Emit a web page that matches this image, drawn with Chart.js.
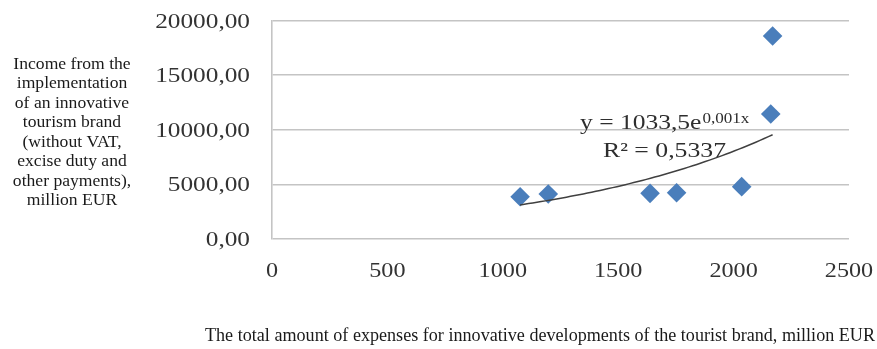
<!DOCTYPE html>
<html>
<head>
<meta charset="utf-8">
<script src="https://cdn.jsdelivr.net/npm/chart.js@4/dist/chart.umd.min.js"></script>
<style>
  html, body { margin: 0; padding: 0; background: #ffffff; }
  #wrap { width: 877px; height: 349px; }
</style>
</head>
<body>
<div id="wrap"><canvas id="chart" width="877" height="349"></canvas></div>
<script>
// Expenses for innovative developments (million EUR)
const expenses = [1075, 1197, 1638, 1753, 2035, 2161, 2169];
// Income from the innovative tourism brand (million EUR)
const income = [3870, 4120, 4180, 4240, 4790, 11440, 18580];

const xTicks = [0, 500, 1000, 1500, 2000, 2500];
const yTicks = [0, 5000, 10000, 15000, 20000];

const yTitleLines = [
  'Income from the',
  'implementation',
  'of an innovative',
  'tourism brand',
  '(without VAT,',
  'excise duty and',
  'other payments),',
  'million EUR'
];
const xTitle = 'The total amount of expenses for innovative developments of the tourist brand, million EUR';
const eqMain = 'y = 1033,5e';
const eqExp = '0,001x';
const eqR2 = 'R\u00B2 = 0,5337';

// Exponential trend y = a·e^(b·x), least squares on ln(y)
function expFit(xs, ys) {
  const n = xs.length;
  const ly = ys.map(v => Math.log(v));
  const mx = xs.reduce((s, v) => s + v, 0) / n;
  const my = ly.reduce((s, v) => s + v, 0) / n;
  let sxy = 0, sxx = 0;
  for (let i = 0; i < n; i++) {
    sxy += (xs[i] - mx) * (ly[i] - my);
    sxx += (xs[i] - mx) * (xs[i] - mx);
  }
  const b = sxy / sxx;
  const a = Math.exp(my - b * mx);
  return { a, b };
}
const fit = expFit(expenses, income);
const xLo = Math.min(...expenses), xHi = Math.max(...expenses);
const trend = [];
for (let i = 0; i <= 60; i++) {
  const x = xLo + (xHi - xLo) * i / 60;
  trend.push({ x, y: fit.a * Math.exp(fit.b * x) });
}

const SERIF = '"Liberation Serif", "Times New Roman", serif';

function wideText(ctx, txt, x, y, align, sx) {
  ctx.save();
  ctx.translate(x, y);
  ctx.scale(sx, 1);
  ctx.textAlign = align;
  ctx.textBaseline = 'alphabetic';
  ctx.fillText(txt, 0, 0);
  ctx.restore();
}

const textPlugin = {
  id: 'axisText',
  afterDraw(chart) {
    const ctx = chart.ctx;
    const xs = chart.scales.x, ys = chart.scales.y;

    // tick labels
    ctx.fillStyle = '#333333';
    ctx.font = '22px ' + SERIF;
    yTicks.forEach(v => {
      const py = ys.getPixelForValue(v);
      wideText(ctx, v.toFixed(2).replace('.', ','), chart.chartArea.left - 22, py + 7, 'right', 1.15);
    });
    xTicks.forEach(v => {
      const px = xs.getPixelForValue(v);
      wideText(ctx, String(v), px, chart.chartArea.bottom + 37.5, 'center', 1.1);
    });

    // vertical axis title
    ctx.fillStyle = '#1a1a1a';
    ctx.font = '16px ' + SERIF;
    yTitleLines.forEach((line, i) => {
      wideText(ctx, line, 72, 68.5 + i * 19.5, 'center', 1.1);
    });

    // horizontal axis title
    ctx.font = '18px ' + SERIF;
    const w = ctx.measureText(xTitle).width;
    wideText(ctx, xTitle, 205, 340.5, 'left', 670 / w);

    // trendline equation
    ctx.fillStyle = '#2e2e2e';
    ctx.font = '22px ' + SERIF;
    const mw = ctx.measureText(eqMain).width * 1.16;
    wideText(ctx, eqMain, 580, 128.5, 'left', 1.16);
    ctx.font = '14px ' + SERIF;
    wideText(ctx, eqExp, 580 + mw + 1, 123, 'left', 1.22);
    ctx.font = '22px ' + SERIF;
    wideText(ctx, eqR2, 603, 156.5, 'left', 1.17);
  }
};

new Chart(document.getElementById('chart'), {
  type: 'scatter',
  data: {
    datasets: [
      {
        type: 'line',
        label: 'trend',
        data: trend,
        borderColor: '#404040',
        borderWidth: 1.5,
        pointRadius: 0,
        fill: false,
        tension: 0,
        order: 0
      },
      {
        label: 'income',
        data: expenses.map((x, i) => ({ x, y: income[i] })),
        pointStyle: 'rectRot',
        pointRadius: 9.8,
        pointBackgroundColor: '#4A7EBB',
        pointBorderColor: '#4A7EBB',
        pointBorderWidth: 0,
        showLine: false,
        order: 1
      }
    ]
  },
  options: {
    responsive: false,
    animation: false,
    events: [],
    layout: { autoPadding: false, padding: { top: 20.5, right: 28, bottom: 0, left: 0 } },
    plugins: { legend: { display: false }, tooltip: { enabled: false } },
    scales: {
      x: {
        type: 'linear',
        min: 0,
        max: 2500,
        ticks: { display: false, stepSize: 500 },
        grid: { display: false },
        border: { display: false },
        afterFit(s) { s.height = 110; }
      },
      y: {
        min: 0,
        max: 20000,
        ticks: { display: false, stepSize: 5000 },
        grid: { color: '#c4c4c4', lineWidth: 1.6, drawTicks: false },
        border: { display: true, color: '#c4c4c4', width: 1.6 },
        afterFit(s) { s.width = 272; }
      }
    }
  },
  plugins: [textPlugin]
});
</script>
</body>
</html>
